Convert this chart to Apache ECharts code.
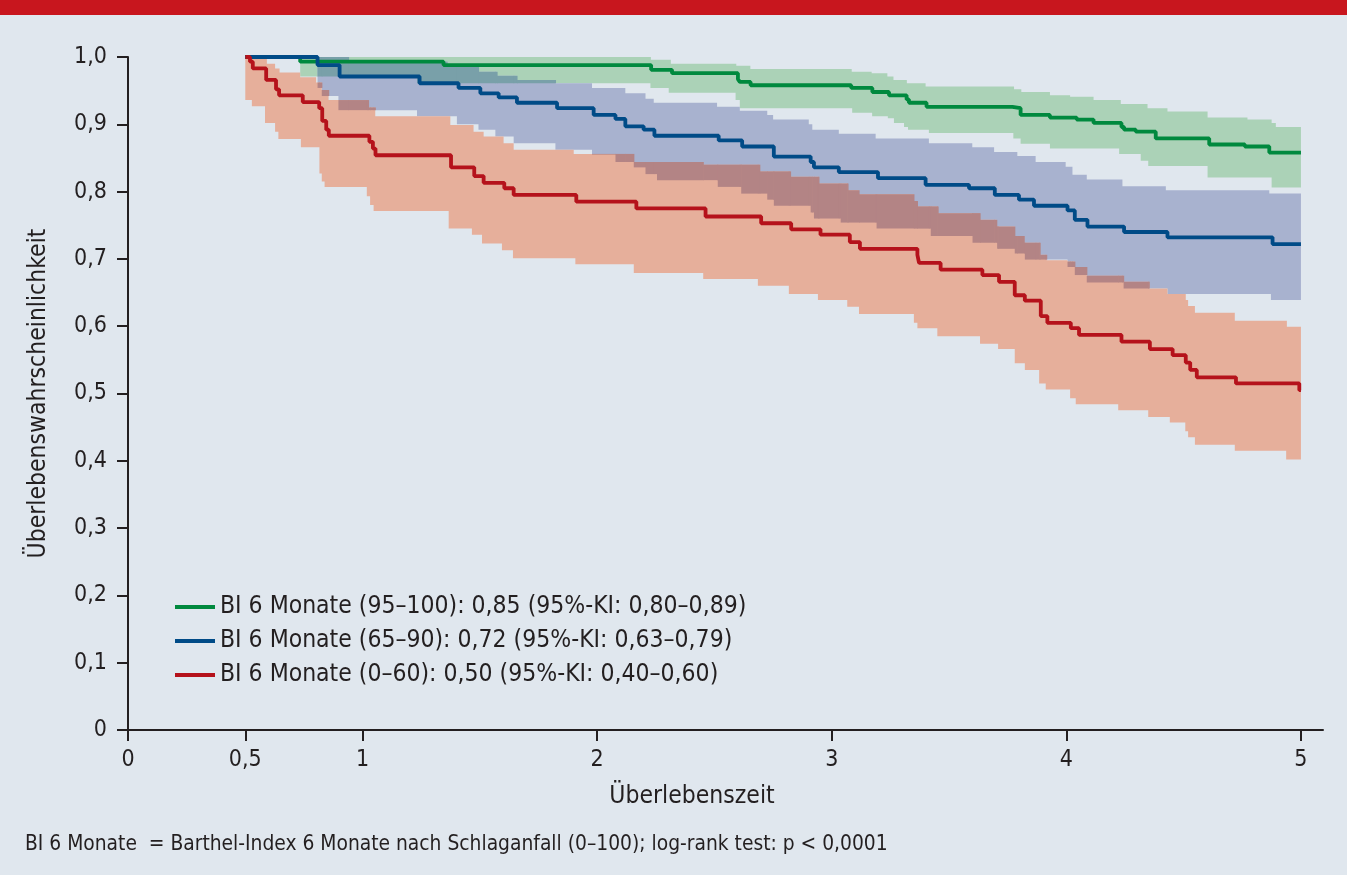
<!DOCTYPE html>
<html>
<head>
<meta charset="utf-8">
<script src="https://cdn.jsdelivr.net/npm/echarts@6/dist/echarts.min.js"></script>
<style>
html, body { margin: 0; padding: 0; background: #e0e7ee; }
#main { width: 1347px; height: 875px; }
</style>
</head>
<body>
<div id="main"></div>
<script>
// Kaplan-Meier curves, [time in years, survival]
var greenLine = [[0.5,1.0],[0.734,0.993],[1.345,0.988],[2.230,0.981],[2.319,0.976],[2.600,0.967],[2.608,0.963],[2.654,0.958],[3.083,0.954],[3.173,0.948],[3.244,0.943],[3.319,0.937],[3.329,0.932],[3.404,0.926],[3.770,0.924],[3.805,0.914],[3.930,0.910],[4.044,0.907],[4.116,0.902],[4.235,0.896],[4.246,0.892],[4.296,0.889],[4.381,0.879],[4.609,0.870],[4.761,0.867],[4.865,0.858],[5.0,0.858]];
var greenUpper = [[0.734,1.0],[2.229,0.996],[2.314,0.990],[2.593,0.987],[2.653,0.982],[3.085,0.978],[3.170,0.976],[3.237,0.971],[3.263,0.966],[3.320,0.961],[3.400,0.956],[3.777,0.952],[3.808,0.948],[3.930,0.943],[4.016,0.941],[4.116,0.936],[4.232,0.930],[4.346,0.924],[4.431,0.919],[4.602,0.910],[4.772,0.907],[4.875,0.902],[4.893,0.896],[5.0,0.896]];
var greenLower = [[0.734,0.971],[1.232,0.961],[2.227,0.954],[2.305,0.947],[2.590,0.936],[2.608,0.924],[3.087,0.917],[3.172,0.912],[3.239,0.909],[3.265,0.902],[3.308,0.896],[3.325,0.892],[3.414,0.887],[3.774,0.879],[3.805,0.871],[3.930,0.864],[4.225,0.856],[4.317,0.846],[4.349,0.838],[4.602,0.821],[4.875,0.806],[5.0,0.806]];

var blueLine = [[0.5,1.0],[0.808,0.988],[0.902,0.971],[1.243,0.961],[1.409,0.954],[1.502,0.946],[1.580,0.940],[1.658,0.932],[1.829,0.924],[1.985,0.914],[2.078,0.908],[2.120,0.897],[2.198,0.892],[2.244,0.883],[2.518,0.876],[2.618,0.867],[2.753,0.852],[2.910,0.844],[2.924,0.836],[3.030,0.829],[3.197,0.820],[3.400,0.810],[3.585,0.805],[3.695,0.795],[3.798,0.788],[3.862,0.779],[4.005,0.772],[4.036,0.758],[4.090,0.748],[4.246,0.740],[4.431,0.732],[4.879,0.722],[5.0,0.722]];
var blueUpper = [[0.5,1.0],[0.940,0.993],[1.360,0.986],[1.494,0.978],[1.573,0.972],[1.658,0.966],[1.822,0.961],[1.978,0.954],[2.120,0.946],[2.206,0.938],[2.241,0.932],[2.511,0.926],[2.608,0.920],[2.725,0.914],[2.750,0.907],[2.902,0.900],[2.917,0.892],[3.030,0.886],[3.187,0.879],[3.414,0.872],[3.599,0.866],[3.692,0.859],[3.791,0.853],[3.869,0.844],[3.997,0.837],[4.026,0.825],[4.087,0.818],[4.239,0.808],[4.424,0.802],[4.865,0.797],[5.0,0.797]];
var blueLower = [[0.5,1.0],[0.808,0.954],[0.826,0.942],[0.897,0.921],[1.232,0.912],[1.402,0.900],[1.494,0.892],[1.566,0.882],[1.644,0.872],[1.822,0.862],[1.978,0.855],[2.078,0.844],[2.156,0.836],[2.206,0.826],[2.255,0.817],[2.514,0.807],[2.614,0.797],[2.725,0.788],[2.753,0.779],[2.910,0.769],[2.924,0.760],[3.038,0.754],[3.191,0.745],[3.422,0.734],[3.600,0.724],[3.705,0.715],[3.780,0.708],[3.823,0.699],[4.005,0.688],[4.036,0.676],[4.087,0.665],[4.244,0.656],[4.431,0.648],[4.872,0.639],[5.0,0.639]];

var redLine = [[0.5,1.0],[0.520,0.993],[0.532,0.983],[0.589,0.966],[0.631,0.952],[0.644,0.943],[0.745,0.933],[0.815,0.924],[0.828,0.905],[0.845,0.892],[0.856,0.883],[1.029,0.874],[1.044,0.864],[1.055,0.854],[1.377,0.836],[1.476,0.823],[1.516,0.813],[1.604,0.805],[1.644,0.795],[1.911,0.785],[2.167,0.775],[2.462,0.763],[2.699,0.753],[2.827,0.744],[2.952,0.736],[3.077,0.725],[3.120,0.715],[3.365,0.706],[3.372,0.694],[3.464,0.684],[3.642,0.676],[3.713,0.666],[3.780,0.646],[3.823,0.638],[3.891,0.615],[3.919,0.605],[4.019,0.597],[4.054,0.587],[4.235,0.577],[4.356,0.566],[4.453,0.557],[4.509,0.546],[4.528,0.535],[4.556,0.524],[4.723,0.515],[4.993,0.505],[5.0,0.505]];
var redUpper = [[0.5,0.998],[0.592,0.990],[0.627,0.983],[0.646,0.977],[0.734,0.970],[0.802,0.962],[0.826,0.951],[0.855,0.936],[1.025,0.925],[1.054,0.912],[1.374,0.899],[1.473,0.889],[1.516,0.882],[1.601,0.872],[1.644,0.862],[1.900,0.856],[2.156,0.844],[2.452,0.840],[2.693,0.830],[2.824,0.822],[2.945,0.812],[3.069,0.802],[3.116,0.796],[3.350,0.786],[3.365,0.778],[3.453,0.768],[3.632,0.758],[3.703,0.748],[3.780,0.734],[3.820,0.724],[3.888,0.706],[3.916,0.698],[4.005,0.696],[4.036,0.688],[4.087,0.675],[4.244,0.666],[4.353,0.656],[4.431,0.648],[4.509,0.639],[4.519,0.630],[4.548,0.620],[4.718,0.608],[4.940,0.599],[5.0,0.599]];
var redLower = [[0.5,0.936],[0.528,0.927],[0.584,0.902],[0.627,0.889],[0.641,0.878],[0.737,0.866],[0.816,0.827],[0.826,0.815],[0.838,0.807],[1.018,0.793],[1.032,0.780],[1.047,0.771],[1.367,0.745],[1.466,0.736],[1.509,0.723],[1.594,0.713],[1.641,0.701],[1.907,0.692],[2.156,0.679],[2.452,0.670],[2.685,0.660],[2.817,0.648],[2.941,0.639],[3.066,0.629],[3.116,0.618],[3.350,0.605],[3.365,0.597],[3.450,0.585],[3.632,0.574],[3.709,0.566],[3.780,0.545],[3.823,0.535],[3.884,0.515],[3.912,0.506],[4.016,0.493],[4.040,0.484],[4.221,0.475],[4.349,0.465],[4.441,0.457],[4.507,0.444],[4.519,0.435],[4.548,0.424],[4.718,0.415],[4.937,0.402],[5.0,0.402]];

var legendNames = [
  'BI 6 Monate (95–100): 0,85 (95%-KI: 0,80–0,89)',
  'BI 6 Monate (65–90): 0,72 (95%-KI: 0,63–0,79)',
  'BI 6 Monate (0–60): 0,50 (95%-KI: 0,40–0,60)'
];
var xTicks = [0, 0.5, 1, 2, 3, 4, 5];
var xTitle = 'Überlebenszeit';
var yTitle = 'Überlebenswahrscheinlichkeit';
var footnote = 'BI 6 Monate  = Barthel-Index 6 Monate nach Schlaganfall (0–100); log-rank test: p < 0,0001';

var FONT = '"DejaVu Sans Condensed", "Liberation Sans Narrow", "Noto Sans", sans-serif';
var INK = '#231f20';

function comma(v) {
  return String(v).replace('.', ',');
}

// value of a step edge at time t (null before it starts)
function stepAt(arr, t) {
  var v = null;
  for (var i = 0; i < arr.length; i++) {
    if (arr[i][0] <= t + 1e-9) v = arr[i][1];
  }
  return v;
}

function stepPoints(arr, api) {
  var p = [];
  for (var i = 0; i < arr.length; i++) {
    if (i > 0) p.push(api.coord([arr[i][0], arr[i - 1][1]]));
    p.push(api.coord(arr[i]));
  }
  return p;
}

function band(upper, lower, fill) {
  return {
    type: 'custom',
    coordinateSystem: 'cartesian2d',
    silent: true,
    z: 1,
    data: [[upper[0][0], upper[0][1]]],
    renderItem: function (params, api) {
      var pts = stepPoints(upper, api).concat(stepPoints(lower, api).reverse());
      return { type: 'polygon', shape: { points: pts }, style: { fill: fill } };
    }
  };
}

// where two confidence bands overlap, drawn darker
function overlap(a, b, fill) {
  return {
    type: 'custom',
    coordinateSystem: 'cartesian2d',
    silent: true,
    z: 2,
    data: [[a[0][0][0], a[0][0][1]]],
    renderItem: function (params, api) {
      var ts = [];
      [a[0], a[1], b[0], b[1]].forEach(function (arr) {
        arr.forEach(function (p) { if (ts.indexOf(p[0]) < 0) ts.push(p[0]); });
      });
      ts.sort(function (x, y) { return x - y; });
      var kids = [];
      for (var k = 0; k < ts.length - 1; k++) {
        var t0 = ts[k], t1 = ts[k + 1];
        var ha = stepAt(a[0], t0), la = stepAt(a[1], t0);
        var hb = stepAt(b[0], t0), lb = stepAt(b[1], t0);
        if (ha === null || la === null || hb === null || lb === null) continue;
        var hi = Math.min(ha, hb), lo = Math.max(la, lb);
        if (hi <= lo) continue;
        var p0 = api.coord([t0, hi]), p1 = api.coord([t1, lo]);
        kids.push({
          type: 'rect',
          shape: { x: p0[0], y: p0[1], width: p1[0] - p0[0] + 0.6, height: p1[1] - p0[1] },
          style: { fill: fill }
        });
      }
      return { type: 'group', children: kids };
    }
  };
}

function km(name, data, color) {
  return {
    name: name,
    type: 'line',
    step: 'end',
    data: data,
    showSymbol: false,
    symbol: 'none',
    z: 3,
    lineStyle: { color: color, width: 3.8 },
    itemStyle: { color: color }
  };
}

var chart = echarts.init(document.getElementById('main'));
chart.setOption({
  backgroundColor: '#e0e7ee',
  animation: false,
  grid: { left: 128, right: 24, top: 57, bottom: 145 },
  legend: {
    data: legendNames,
    orient: 'vertical',
    left: 175,
    top: 590,
    padding: 0,
    icon: 'rect',
    itemWidth: 40,
    itemHeight: 4,
    itemGap: 0,
    selectedMode: false,
    textStyle: { fontFamily: FONT, fontSize: 24.5, color: INK, lineHeight: 34 }
  },
  xAxis: {
    type: 'value',
    min: 0,
    max: 5.094,
    splitLine: { show: false },
    axisLine: { lineStyle: { color: INK, width: 2 } },
    axisTick: { customValues: xTicks, length: 11, lineStyle: { color: INK, width: 2 } },
    axisLabel: {
      customValues: xTicks,
      margin: 19,
      fontFamily: FONT,
      fontSize: 23,
      color: INK,
      formatter: function (v) { return comma(v); }
    }
  },
  yAxis: {
    type: 'value',
    min: 0,
    max: 1,
    interval: 0.1,
    name: yTitle,
    nameLocation: 'middle',
    nameGap: 77,
    nameRotate: 90,
    nameTextStyle: { fontFamily: FONT, fontSize: 24.5, color: INK },
    splitLine: { show: false },
    axisLine: { show: true, lineStyle: { color: INK, width: 2 } },
    axisTick: { length: 11, lineStyle: { color: INK, width: 2 } },
    axisLabel: {
      margin: 21,
      fontFamily: FONT,
      fontSize: 23,
      color: INK,
      formatter: function (v) { return v === 0 ? '0' : comma(v.toFixed(1)); }
    }
  },
  graphic: [
    { type: 'rect', left: 0, top: 0, shape: { width: 1347, height: 15 }, style: { fill: '#c8161e' } },
    { type: 'text', x: 692, y: 797, style: { text: xTitle, fontFamily: FONT, fontSize: 24.5, fill: INK, align: 'center', verticalAlign: 'middle' } },
    { type: 'text', x: 25, y: 845, style: { text: footnote, fontFamily: FONT, fontSize: 20.8, fill: INK, align: 'left', verticalAlign: 'middle' } }
  ],
  series: [
    band(greenUpper, greenLower, '#abd2b7'),
    band(blueUpper, blueLower, '#a8b2cf'),
    band(redUpper, redLower, '#e6af9b'),
    overlap([redUpper, redLower], [blueUpper, blueLower], '#b38485'),
    overlap([blueUpper, blueLower], [greenUpper, greenLower], '#79a0a9'),
    overlap([redUpper, redLower], [greenUpper, greenLower], '#a59a8c'),
    km(legendNames[0], greenLine, '#00893e'),
    km(legendNames[1], blueLine, '#004b87'),
    km(legendNames[2], redLine, '#b5121b')
  ]
});
</script>
</body>
</html>
